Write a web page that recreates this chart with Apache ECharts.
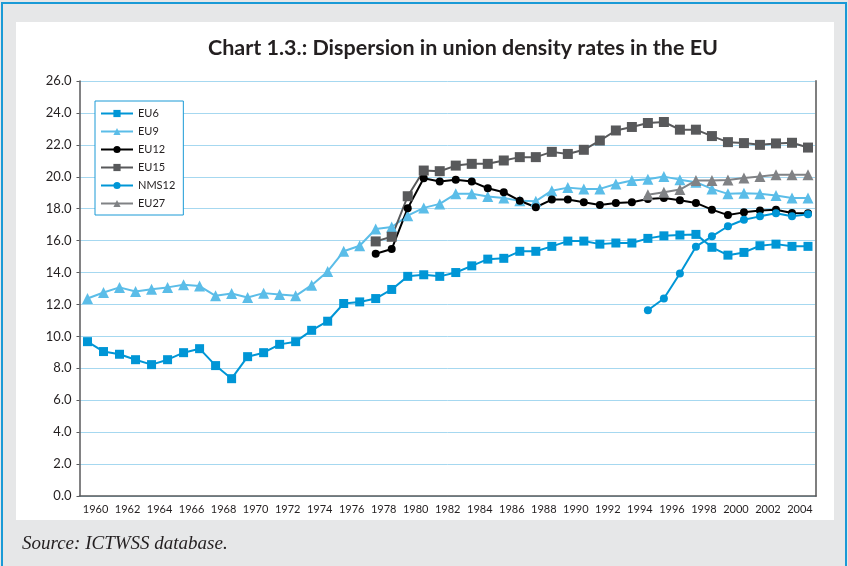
<!DOCTYPE html>
<html>
<head>
<meta charset="utf-8">
<title>Chart 1.3.</title>
<script src="https://cdn.jsdelivr.net/npm/echarts@6/dist/echarts.min.js"></script>
<style>
html, body { margin: 0; padding: 0; background: #fff; }
#chart { width: 848px; height: 566px; }
</style>
</head>
<body>
<div id="chart"></div>
<script>
// years on the x axis
var years = [];
for (var y = 1960; y <= 2005; y++) { years.push(String(y)); }

// union density values, each series listed from its first year
var eu6 = [9.67, 9.05, 8.88, 8.54, 8.23, 8.54, 8.98, 9.23, 8.17, 7.35,
	8.73, 8.98, 9.5, 9.67, 10.38, 10.95, 12.06, 12.16, 12.37, 12.94,
	13.76, 13.86, 13.76, 14.0, 14.42, 14.84, 14.89, 15.33, 15.33, 15.64,
	15.97, 15.97, 15.78, 15.85, 15.85, 16.14, 16.3, 16.35, 16.39, 15.58,
	15.09, 15.26, 15.68, 15.78, 15.64, 15.64];
var eu6Start = 1960;

var eu9 = [12.37, 12.75, 13.07, 12.81, 12.96, 13.07, 13.23, 13.15, 12.54, 12.69,
	12.44, 12.71, 12.62, 12.54, 13.21, 14.07, 15.33, 15.68, 16.73, 16.85,
	17.56, 18.05, 18.3, 18.93, 18.93, 18.76, 18.67, 18.49, 18.47, 19.13,
	19.32, 19.24, 19.24, 19.55, 19.76, 19.85, 20.01, 19.82, 19.66, 19.24,
	18.93, 18.97, 18.94, 18.82, 18.67, 18.67];
var eu9Start = 1960;

var eu12 = [15.18, 15.47,
	18.03, 19.91, 19.7, 19.82, 19.7, 19.28, 19.03, 18.5, 18.09, 18.57,
	18.57, 18.4, 18.23, 18.36, 18.4, 18.61, 18.67, 18.53, 18.36, 17.94,
	17.6, 17.77, 17.88, 17.94, 17.73, 17.71];
var eu12Start = 1978;

var eu15 = [15.95, 16.24,
	18.78, 20.39, 20.35, 20.7, 20.81, 20.81, 21.02, 21.23, 21.23, 21.56,
	21.43, 21.69, 22.27, 22.9, 23.12, 23.37, 23.43, 22.95, 22.95, 22.55,
	22.17, 22.11, 22.0, 22.09, 22.13, 21.83];
var eu15Start = 1978;

var nms12 = [11.64, 12.37, 13.94, 15.62, 16.27, 16.9, 17.31, 17.52, 17.71, 17.52, 17.65];
var nms12Start = 1995;

var eu27 = [18.88, 19.03, 19.2, 19.76, 19.76, 19.8, 19.93, 20.01, 20.12, 20.12, 20.12];
var eu27Start = 1995;

// y axis ticks
var yMin = 0, yMax = 26, yStep = 2;

function pad(values, start) {
	var out = [];
	for (var i = 0; i < years.length; i++) {
		var k = (1960 + i) - start;
		out.push(k >= 0 && k < values.length ? values[k] : null);
	}
	return out;
}

var FONT = 'Lato';
var TEXT = '#231f20';

function line(name, values, start, color, symbol, size) {
	return {
		name: name,
		type: 'line',
		data: pad(values, start),
		symbol: symbol,
		symbolSize: size,
		showSymbol: true,
		showAllSymbol: true,
		connectNulls: false,
		lineStyle: { color: color, width: 2 },
		itemStyle: { color: color, borderWidth: 0 },
		animation: false
	};
}

var myChart = echarts.init(document.getElementById('chart'), null, { renderer: 'canvas' });

var option = {
	backgroundColor: '#e6e7e8',
	animation: false,
	graphic: [
		{ type: 'rect', z: -10, silent: true,
			shape: { x: 2, y: 3, width: 844, height: 600 },
			style: { fill: '#e6e7e8', stroke: '#1a9ad6', lineWidth: 2 } },
		{ type: 'rect', z: -9, silent: true,
			shape: { x: 16, y: 22, width: 818, height: 498 },
			style: { fill: '#ffffff' } },
		{ type: 'text', z: 5, silent: true, left: 22, top: 534,
			style: { text: 'Source: ICTWSS database.', fill: TEXT,
				font: 'italic 19px "Liberation Serif", serif' } }
	],
	title: {
		text: 'Chart 1.3.: Dispersion in union density rates in the EU',
		left: 458, top: 32, textAlign: 'center',
		textStyle: { fontFamily: FONT, fontWeight: 'bold', fontSize: 21.5, color: TEXT }
	},
	legend: {
		orient: 'vertical',
		left: 95, top: 101,
		padding: [7, 8, 6, 5],
		itemWidth: 32, itemHeight: 9, itemGap: 7,
		backgroundColor: '#ffffff',
		borderColor: '#1a9ad6', borderWidth: 1,
		textStyle: { fontFamily: FONT, fontSize: 11, color: TEXT },
		data: ['EU6', 'EU9', 'EU12', 'EU15', 'NMS12', 'EU27']
	},
	grid: { left: 79.5, right: 32, top: 81, bottom: 70, containLabel: false },
	xAxis: [{
		type: 'category',
		data: years,
		boundaryGap: true,
		axisLine: { lineStyle: { color: '#58595b', width: 1.5 } },
		axisTick: { interval: 0, length: 3, lineStyle: { color: '#58595b' } },
		axisLabel: { interval: 1, fontFamily: FONT, fontSize: 11, color: TEXT,
			margin: 8, padding: [0, 0, 0, 16] },
		splitLine: { show: false }
	}, {
		type: 'category',
		data: years,
		position: 'bottom',
		boundaryGap: true,
		axisLine: { show: false },
		axisTick: { interval: 1, length: 6, lineStyle: { color: '#58595b' } },
		axisLabel: { show: false },
		splitLine: { show: false }
	}],
	yAxis: [{
		type: 'value',
		min: yMin, max: yMax, interval: yStep,
		axisLine: { show: true, lineStyle: { color: '#58595b', width: 1.5 } },
		axisTick: { show: true, length: 3, lineStyle: { color: '#58595b' } },
		axisLabel: { fontFamily: FONT, fontSize: 13, color: TEXT, margin: 8,
			formatter: function (v) { return v.toFixed(1); } },
		splitLine: { show: true, lineStyle: { color: '#a6d8f0', width: 1 } }
	}, {
		type: 'value',
		position: 'right',
		min: yMin, max: yMax, interval: yStep,
		axisLine: { show: true, lineStyle: { color: '#7f7f7f', width: 2 } },
		axisTick: { show: false },
		axisLabel: { show: false },
		splitLine: { show: false }
	}],
	series: [
		line('EU6', eu6, eu6Start, '#0096d6', 'rect', 9),
		line('EU9', eu9, eu9Start, '#5bbde8', 'triangle', 11),
		line('EU12', eu12, eu12Start, '#000000', 'circle', 8),
		line('EU15', eu15, eu15Start, '#58595b', 'rect', 10),
		line('NMS12', nms12, nms12Start, '#0096d6', 'circle', 8),
		line('EU27', eu27, eu27Start, '#808285', 'triangle', 11)
	]
};

myChart.setOption(option);
</script>
</body>
</html>
